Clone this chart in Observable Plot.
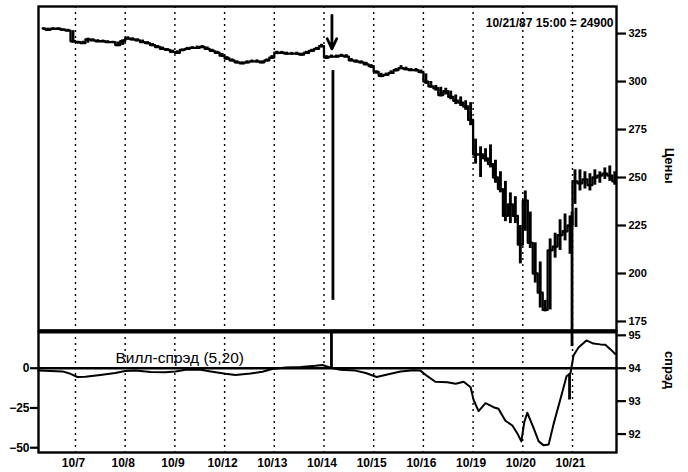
<!DOCTYPE html>
<html><head><meta charset="utf-8">
<script src="https://cdn.jsdelivr.net/npm/d3@7"></script>
<script src="https://cdn.jsdelivr.net/npm/@observablehq/plot@0.6"></script>
<style>
html,body{margin:0;padding:0;background:#fff;}
#chart{width:688px;height:472px;position:relative;overflow:hidden;}
#chart svg{display:block;overflow:visible;}
</style></head><body><div id="chart"></div>
<script>
// ---- data ----
const dayLabels = ["10/6","10/7","10/8","10/9","10/12","10/13","10/14","10/15","10/16","10/19","10/20","10/21"];
const slotsPerDay = 10;
// bars: [low, high, close]
const d1006 = [[327,328,327.5],[326.5,327.8,327],[327,328,327.5],[326.8,328,327.5],[326.5,327.5,327],[326,327.2,326.5],[320,326.5,321]];
const d1007 = [[319.5,321,320.5],[319.3,321,320],[320,322.6,322],[320.8,322.3,321.5],[320.3,321.8,321],[320.2,321.6,321],[319.8,321.3,320.5],[319.8,321,320.5],[318.2,320.6,319],[318.8,321.8,321]];
const d1008 = [[321.5,323.3,322.5],[321.2,322.8,322],[320.8,322.3,321.5],[319.8,321.6,320.5],[319.2,320.8,320],[318.2,319.8,319],[317.3,318.8,318],[316.3,318,317],[315.8,317.2,316.5],[314.6,316.4,315.5]];
const d1009 = [[314.3,316,315],[315.5,317,316.5],[316.3,317.8,317],[316.8,318.2,317.5],[316.8,318.5,317.5],[317.2,318.8,318],[316.2,318,317],[315.2,316.8,316],[314.3,315.8,315],[312.6,314.6,313.5]];
const d1012 = [[311,313,312],[310.2,311.8,311],[309.2,310.8,310],[308.8,310.3,309.5],[309.2,310.8,310],[309.8,311.2,310.5],[309.7,311.3,310.5],[309.2,310.8,310],[310.2,311.8,311],[311.5,313.5,312.5]];
const d1013 = [[314,315.8,315],[314.3,315.7,315],[313.8,315.3,314.5],[313.8,315.2,314.5],[313.7,315.3,314.5],[313.3,314.8,314],[314.2,315.8,315],[315.2,316.8,316],[316.2,317.8,317],[317.5,319.4,318.5]];
const d1014 = [[311.5,313.5,312.5],[312.3,313.8,313],[312.3,313.8,313],[312.7,314.2,313.5],[312.5,314,313],[310.3,312,311],[309.6,311.3,310.5],[309.2,310.8,310],[308.3,310,309],[306.8,308.8,308]];
const d1015 = [[303.8,305.6,305],[302,304.3,303],[302.8,304.4,303.5],[303.8,305.6,304.5],[305,306.8,306],[306.2,308.3,307],[305.6,307.5,306.5],[305.2,306.8,306],[305,306.8,306],[304,306,305]];
const d1016 = [[298.5,304,300],[296.5,300,297.5],[295,298,296.5],[292,297,293],[293,296.5,295],[290.5,295,292],[288,293,290],[287,292,289],[285,290,287],[277,289,280]];
const d1019 = [[257,270,262],[250,266,262],[258,265,260],[255,267,257],[247,259,250],[242,253,244],[227,248,230],[226,242,236],[226,240,230],[205,225,215]];
const d1020 = [[222,243,238],[213,232,216],[195,216,200],[182,206,190],[180,186,181],[181,218,212],[208,221,214],[212,228,220],[217,231,222],[210,230,225]];
const d1021 = [[236,254,248],[243,254,247],[244,253,249],[243,252,246],[246,254,250],[247,253,251],[249,255,252],[248,256,251],[246,253,248]];
const days = [d1006,d1007,d1008,d1009,d1012,d1013,d1014,d1015,d1016,d1019,d1020,d1021];

// bad ticks (day position, low, high)
const priceSpikePos = [6.18, 10.99, 11.07];
const priceSpikeLow = [186, 160, 224];
const priceSpikeHigh = [305.7, 232, 234];
const arrowNote = [{pos: 6.16, from: 334.5, to: 317}];
const stampText = "10/21/87 15:00 = 24900";
const priceLabel = "Цены";
const priceTicks = [175, 200, 225, 250, 275, 300, 325];

// Will-spread (5,20)
const spreadPos = [0.256,0.497,0.738,0.899,1.04,1.2,1.5,1.8,2.0,2.21,2.51,2.81,3.01,3.25,3.52,3.72,4.02,4.22,4.52,4.76,4.96,5.23,5.53,5.83,5.97,6.13,6.33,6.63,6.84,7.06,7.34,7.54,7.8,7.94,8.08,8.24,8.48,8.65,8.81,8.95,9.01,9.11,9.25,9.41,9.51,9.65,9.79,9.89,9.97,10.03,10.09,10.21,10.32,10.42,10.52,10.62,10.76,10.88,10.96,11.02,11.12,11.28,11.42,11.56,11.66,11.76,11.86];
const spreadVal = [-1.5,-1.8,-2,-3.5,-5.5,-5.3,-4.2,-3,-1.8,-1.5,-2.3,-2.5,-2,-0.8,-1,-2,-3.5,-4.2,-3.3,-2.2,-0.5,0.5,0.8,1.5,2,0.3,-1,-1.5,-3,-5.5,-3.5,-2,-1.3,-1.5,-5,-8.5,-8.8,-9.8,-8.5,-12,-20,-27,-22,-24.5,-25.5,-33,-36,-41,-46,-34,-28,-37,-46,-48.5,-48,-35,-19,-5,-3,8,13,17.5,15.5,15,14.8,12,9];
const spreadSpikePos = [6.15, 10.99, 10.94];
const spreadSpikeLow = [0, 13.6, -20];
const spreadSpikeHigh = [23.1, 23.1, -4];
const spreadTitle = "Вилл-спрэд (5,20)";
const spreadLabel = "спрэд";
const spreadLeftTicks = [0, -25, -50];
const spreadRightTicks = [95, 94, 93, 92];

// ---- build tables ----
const priceBars = [];
days.forEach((arr, d) => {
  const off = d === 0 ? slotsPerDay - arr.length : 0;
  arr.forEach((b, i) => priceBars.push({pos: d + (off + i + 0.5) / slotsPerDay, low: b[0], high: b[1], close: b[2]}));
});
const priceSpikes = priceSpikePos.map((p, i) => ({pos: p, low: priceSpikeLow[i], high: priceSpikeHigh[i]}));
const spread = spreadPos.map((p, i) => ({pos: p, v: spreadVal[i]}));
const spreadSpikes = spreadSpikePos.map((p, i) => ({pos: p, low: spreadSpikeLow[i], high: spreadSpikeHigh[i]}));
const gridPos = d3.range(1, dayLabels.length);
const rightFactor = 20.7;
const rightToLeft = v => (v - 94) * rightFactor;
const rightTickPos = spreadRightTicks.map(rightToLeft);
const rightLabelOf = new Map(rightTickPos.map((p, i) => [p, String(spreadRightTicks[i])]));

const xDomain = [0.256, 11.885];
const spreadDomain = [-53, 23.1];
const narrow = "'Liberation Sans Narrow','Arial Narrow','Liberation Sans',Arial,sans-serif";
const regular = "'Liberation Sans',Arial,sans-serif";

const topChart = Plot.plot({
  width: 688, height: 331,
  marginTop: 6, marginBottom: 1, marginLeft: 38, marginRight: 72,
  x: {domain: xDomain, axis: null},
  y: {domain: [170.3, 339.1], axis: null},
  style: {fontFamily: narrow, fontSize: "11px", background: "#fff", color: "#000"},
  marks: [
    Plot.ruleX(gridPos, {stroke: "#000", strokeWidth: 1.4, strokeDasharray: "2,4"}),
    Plot.ruleX(priceBars, {x: "pos", y1: "low", y2: "high", stroke: "#000", strokeWidth: 2.9}),
    Plot.line(priceBars, {x: "pos", y: "close", curve: "step", stroke: "#000", strokeWidth: 2.3}),
    Plot.ruleX(priceSpikes, {x: "pos", y1: "low", y2: "high", stroke: "#000", strokeWidth: 2.8, clip: true}),
    Plot.arrow(arrowNote, {x1: "pos", x2: "pos", y1: "from", y2: "to", stroke: "#000", strokeWidth: 2.8, headLength: 9, headAngle: 50}),
    Plot.axisY({anchor: "right", ticks: priceTicks, tickSize: 9, tickPadding: 3, strokeWidth: 2.2, fontWeight: "bold", fontSize: 11, label: null}),
    Plot.frame({stroke: "#000", strokeWidth: 2.4}),
    Plot.text([priceLabel], {frameAnchor: "right", rotate: 90, dx: 53, dy: 15, fontSize: 13, fontWeight: "bold", fontFamily: regular}),
    Plot.text([stampText], {frameAnchor: "top-right", textAnchor: "end", dx: -3, dy: 12, fontSize: 12, fontWeight: "bold"})
  ]
});

const bottomChart = Plot.plot({
  width: 688, height: 141,
  marginTop: 0, marginBottom: 20, marginLeft: 38, marginRight: 72,
  x: {domain: xDomain, axis: null},
  y: {domain: spreadDomain, axis: null},
  style: {fontFamily: narrow, fontSize: "11px", background: "#fff", color: "#000", overflow: "visible"},
  marks: [
    Plot.ruleX(gridPos, {stroke: "#000", strokeWidth: 1.4, strokeDasharray: "2,4"}),
    Plot.ruleY([0], {stroke: "#000", strokeWidth: 2.6}),
    Plot.line(spread, {x: "pos", y: "v", stroke: "#000", strokeWidth: 2}),
    Plot.ruleX(spreadSpikes, {x: "pos", y1: "low", y2: "high", stroke: "#000", strokeWidth: 2.8}),
    Plot.axisY({anchor: "left", ticks: spreadLeftTicks, tickSize: 8, tickPadding: 1, strokeWidth: 2.2, fontWeight: "bold", fontSize: 12, label: null}),
    Plot.axisY({anchor: "right", ticks: rightTickPos, tickFormat: d => rightLabelOf.get(d), tickSize: 9, tickPadding: 3, strokeWidth: 2.2, fontWeight: "bold", fontSize: 11, label: null}),
    Plot.axisX({ticks: gridPos, tickFormat: d => dayLabels[d], tickSize: 0, tickPadding: 6, dx: -2, fontWeight: "bold", fontSize: 12, label: null}),
    Plot.frame({stroke: "#000", strokeWidth: 2.4}),
    Plot.ruleY([spreadDomain[1]], {stroke: "#000", strokeWidth: 4}),
    Plot.text([spreadTitle], {frameAnchor: "top-left", textAnchor: "start", dx: 77, dy: 20, fontSize: 15.5, fontFamily: regular}),
    Plot.text([spreadLabel], {frameAnchor: "right", rotate: 90, dx: 53, dy: -3, fontSize: 13, fontWeight: "bold", fontFamily: regular})
  ]
});

const host = document.getElementById("chart");
host.appendChild(topChart);
host.appendChild(bottomChart);
</script>
</body></html>
